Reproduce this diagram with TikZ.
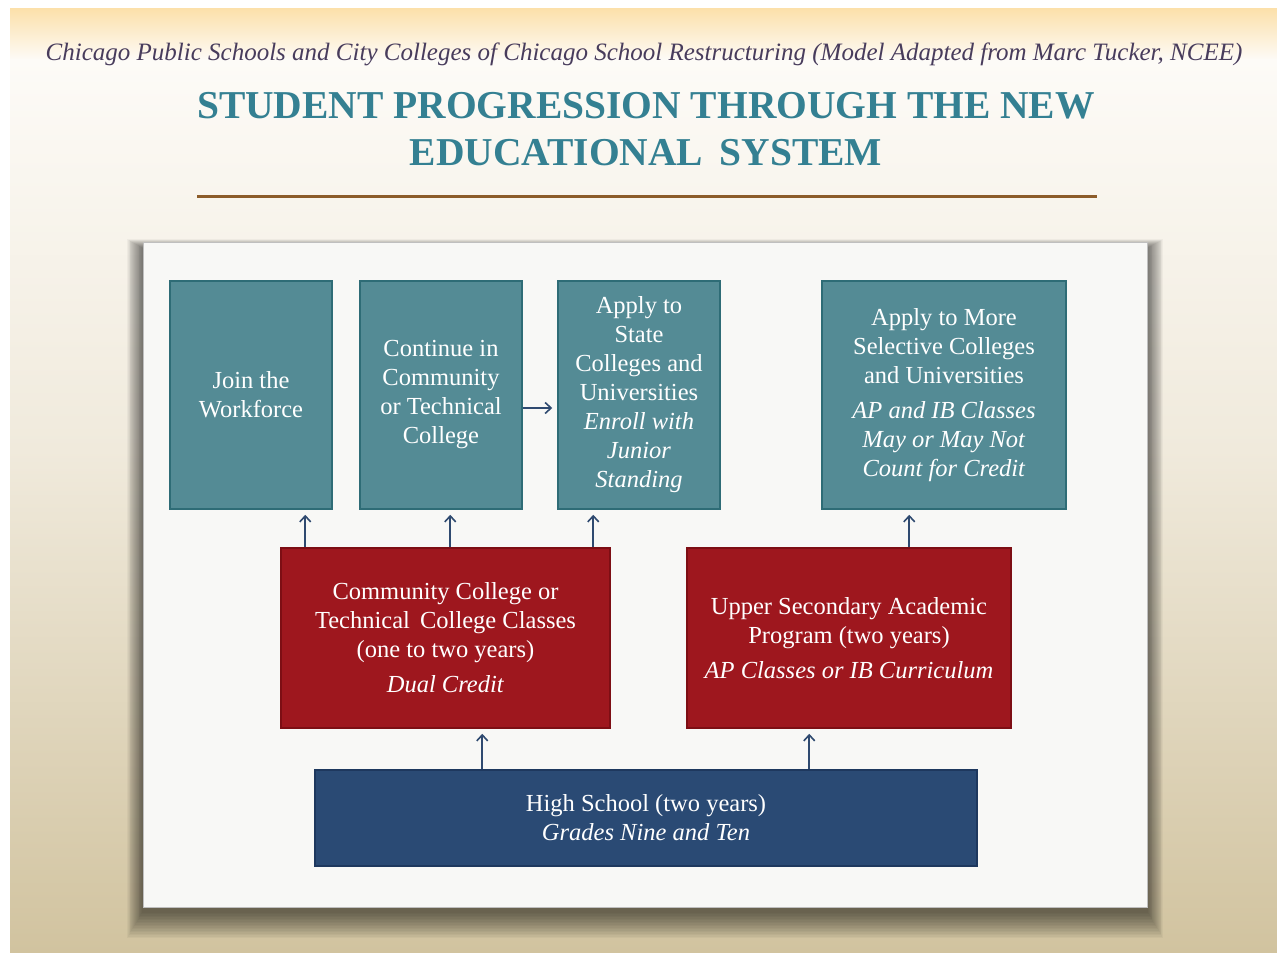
\documentclass[tikz,border=0pt]{standalone}
\usepackage{fontspec}
\setmainfont{Liberation Serif}
\usetikzlibrary{arrows.meta}
\definecolor{bgorange}{RGB}{252,224,170}
\definecolor{bgwhite}{RGB}{253,251,247}
\definecolor{bgmid}{RGB}{240,234,220}
\definecolor{bgtan}{RGB}{209,195,159}
\definecolor{panel}{RGB}{248,248,246}
\definecolor{tealfill}{RGB}{84,139,149}
\definecolor{tealdark}{RGB}{46,108,118}
\definecolor{redfill}{RGB}{158,23,30}
\definecolor{reddark}{RGB}{125,14,20}
\definecolor{bluefill}{RGB}{42,74,116}
\definecolor{bluedark}{RGB}{30,56,94}
\definecolor{titleteal}{RGB}{52,128,146}
\definecolor{subcol}{RGB}{72,60,92}
\definecolor{rulebrown}{RGB}{140,92,42}
\definecolor{arrcol}{RGB}{47,74,112}
\begin{document}
\begin{tikzpicture}[x=1pt,y=-1pt,
  boxbase/.style={text=white, align=center, inner sep=0pt, line width=1.5pt,
    font=\fontsize{24.5}{29}\selectfont},
  tealbox/.style={boxbase, draw=tealdark, fill=tealfill, minimum height=228pt},
  redbox/.style={boxbase, draw=reddark, fill=redfill, minimum height=180pt},
  bluebox/.style={boxbase, draw=bluedark, fill=bluefill, minimum height=96pt},
  arr/.style={draw=arrcol, line width=1.6pt, -{Straight Barb[length=6pt,width=11pt,line width=1.6pt]}, shorten >=5pt},
  subtitle/.style={text=subcol, font=\fontsize{25}{30}\selectfont\itshape, inner sep=0pt},
  titlestyle/.style={text=titleteal, font=\fontsize{39.5}{48}\selectfont\bfseries, inner sep=0pt}
]
\useasboundingbox (0,0) rectangle (1277,953);
\fill[white] (0,0) rectangle (1277,953);
% slide background
\shade[top color=bgorange, bottom color=bgwhite] (10,8) rectangle (1277,60);
\shade[top color=bgwhite, bottom color=bgmid] (10,59.5) rectangle (1277,450);
\shade[top color=bgmid, bottom color=bgtan] (10,449.5) rectangle (1277,953);
% panel shadow
\foreach \i in {1,...,18} {
  \fill[black, opacity=0.035] (143-0.9*\i,242-0.5*\i+6) rectangle (1147+0.9*\i,907+1.5*\i+4);
}
\fill[panel] (143,242) rectangle (1147,907);
\draw[black!25, line width=0.8pt] (143,242) rectangle (1147,907);
% header
\node[subtitle, anchor=base] (sub) at (644,60) {Chicago Public Schools and City Colleges of Chicago School Restructuring (Model Adapted from Marc Tucker, NCEE)};
\node[titlestyle, anchor=base] (t1) at (646,118) {STUDENT PROGRESSION THROUGH THE NEW};
\node[titlestyle, anchor=base] (t2) at (646,165) {EDUCATIONAL\, SYSTEM};
\draw[rulebrown, line width=3pt] (197,196) -- (1097,196);
% boxes
\node[tealbox, minimum width=162pt] (b1) at (251,395) {Join the\\Workforce};
\node[tealbox, minimum width=162pt] (b2) at (441,395) {Continue in\\Community\\or Technical\\College};
\node[tealbox, minimum width=162pt] (b3) at (639,395) {Apply to\\State\\Colleges and\\Universities\\\textit{Enroll with}\\\textit{Junior}\\\textit{Standing}};
\node[tealbox, minimum width=244pt] (b4) at (944,395) {Apply to More\\Selective Colleges\\and Universities\\[6pt]\textit{AP and IB Classes}\\\textit{May or May Not}\\\textit{Count for Credit}};
\node[redbox, minimum width=329pt] (r1) at (445.5,638) {Community College or\\Technical\, College Classes\\(one to two years)\\[6pt]\textit{Dual Credit}};
\node[redbox, minimum width=324pt] (r2) at (849,638) {Upper Secondary Academic\\Program (two years)\\[6pt]\textit{AP Classes or IB Curriculum}};
\node[bluebox, minimum width=662pt] (hs) at (646,818) {High School (two years)\\\textit{Grades Nine and Ten}};
% connectors
\draw[arr] ([xshift=25pt]r1.north west) -- ([xshift=25pt]r1.north west |- b1.south);
\draw[arr] ([xshift=170pt]r1.north west) -- ([xshift=170pt]r1.north west |- b2.south);
\draw[arr] ([xshift=313pt]r1.north west) -- ([xshift=313pt]r1.north west |- b3.south);
\draw[arr] ([xshift=223pt]r2.north west) -- ([xshift=223pt]r2.north west |- b4.south);
\draw[arr] ([xshift=168pt]hs.north west) -- ([xshift=168pt]hs.north west |- r1.south);
\draw[arr] ([xshift=495pt]hs.north west) -- ([xshift=495pt]hs.north west |- r2.south);
\draw[arr] ([yshift=-13pt]b2.east) -- ([yshift=-13pt]b2.east -| b3.west);
\end{tikzpicture}
\end{document}
